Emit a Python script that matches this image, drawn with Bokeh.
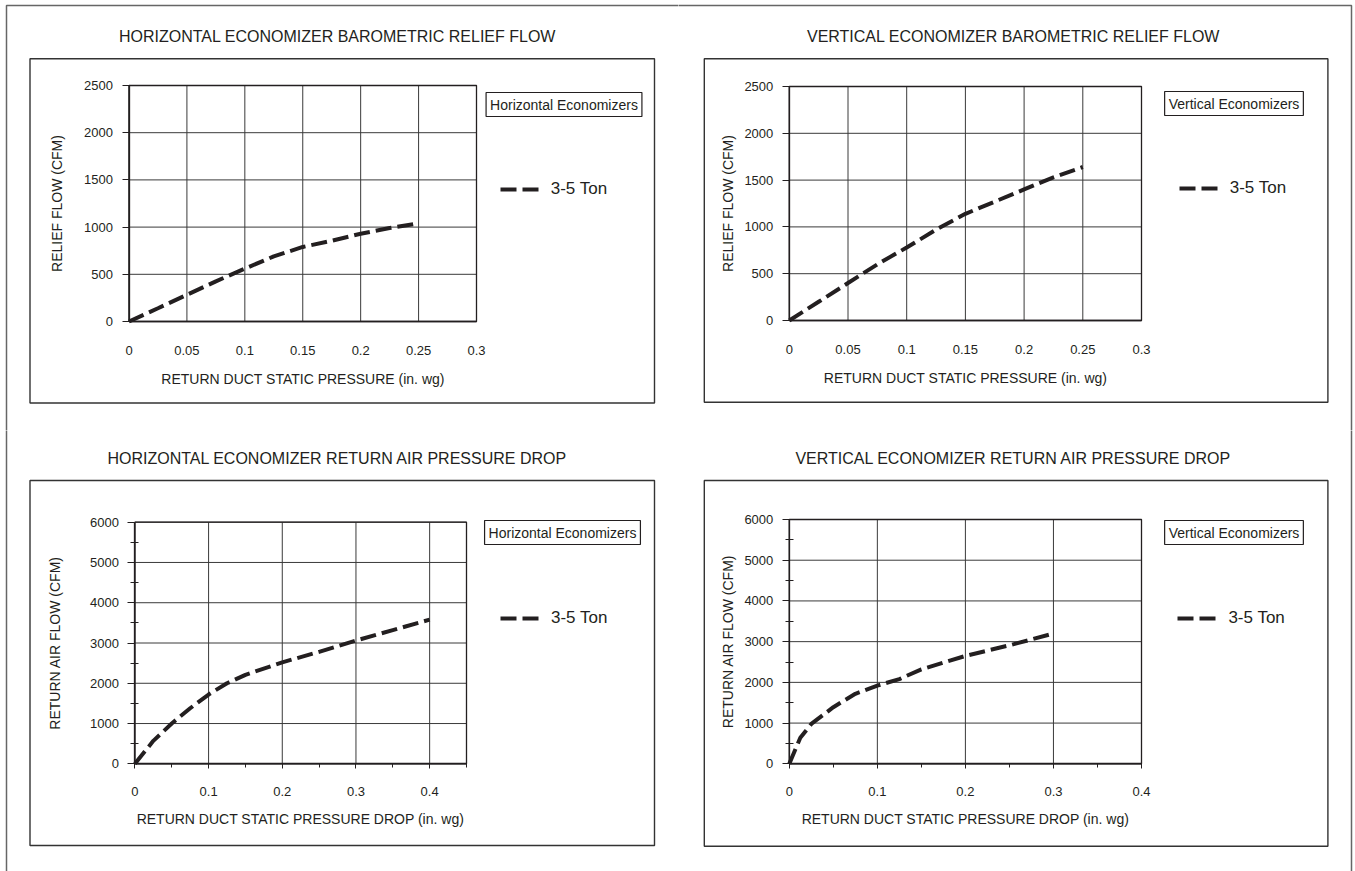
from bokeh.plotting import figure
from bokeh.layouts import column, row
from bokeh.models import (Range1d, FixedTicker, NumeralTickFormatter, Label, LinearAxis,
                          BoxAnnotation, Legend, LegendItem)
from bokeh.embed import file_html
from bokeh.resources import INLINE

# ---------------- data ----------------
series_label = "3-5 Ton"

# Horizontal economizer barometric relief flow
h_relief_x = [0, 0.025, 0.05, 0.075, 0.1, 0.125, 0.15, 0.175, 0.2, 0.225, 0.25]
h_relief_y = [0, 140, 283, 425, 560, 690, 790, 855, 930, 990, 1040]

# Vertical economizer barometric relief flow
v_relief_x = [0, 0.025, 0.05, 0.075, 0.1, 0.125, 0.15, 0.175, 0.2, 0.225, 0.25]
v_relief_y = [0, 200, 400, 600, 780, 970, 1140, 1270, 1400, 1530, 1640]

# Horizontal economizer return air pressure drop
h_drop_x = [0, 0.025, 0.05, 0.075, 0.1, 0.125, 0.15, 0.2, 0.25, 0.3, 0.35, 0.4]
h_drop_y = [0, 570, 1000, 1380, 1720, 2000, 2210, 2520, 2780, 3060, 3320, 3580]

# Vertical economizer return air pressure drop
v_drop_x = [0, 0.0125, 0.025, 0.05, 0.075, 0.1, 0.125, 0.15, 0.2, 0.25, 0.3]
v_drop_y = [0, 640, 980, 1390, 1720, 1920, 2080, 2320, 2650, 2910, 3200]

relief_x_ticks = [0, 0.05, 0.1, 0.15, 0.2, 0.25, 0.3]
relief_y_ticks = [0, 500, 1000, 1500, 2000, 2500]
drop_x_ticks = [0, 0.1, 0.2, 0.3, 0.4]
drop_x_minor_h = [0.05, 0.15, 0.25, 0.35, 0.45]
drop_x_minor_v = [0.05, 0.15, 0.25, 0.35]
drop_y_ticks = [0, 1000, 2000, 3000, 4000, 5000, 6000]
drop_y_minor = [500, 1500, 2500, 3500, 4500, 5500]

titles = ["HORIZONTAL ECONOMIZER BAROMETRIC RELIEF FLOW",
          "VERTICAL ECONOMIZER BAROMETRIC RELIEF FLOW",
          "HORIZONTAL ECONOMIZER RETURN AIR PRESSURE DROP",
          "VERTICAL ECONOMIZER RETURN AIR PRESSURE DROP"]
box_labels = ["Horizontal Economizers", "Vertical Economizers",
              "Horizontal Economizers", "Vertical Economizers"]
x_labels = ["RETURN DUCT STATIC PRESSURE (in. wg)",
            "RETURN DUCT STATIC PRESSURE (in. wg)",
            "RETURN DUCT STATIC PRESSURE DROP (in. wg)",
            "RETURN DUCT STATIC PRESSURE DROP (in. wg)"]
y_labels = ["RELIEF FLOW (CFM)", "RELIEF FLOW (CFM)",
            "RETURN AIR FLOW (CFM)", "RETURN AIR FLOW (CFM)"]

FONT = "Liberation Sans"
INK = "#231f20"
GRID = "#3a3a3a"


def fit_range(d0, d1, p0, p1, total):
    """Range whose values d0/d1 land at pixels p0/p1 of a canvas 'total' px long."""
    s = (d1 - d0) / (p1 - p0)
    return Range1d(d0 - p0 * s, d1 + (total - p1) * s)


def make_panel(xs, ys, xt, xm, yt, ym, xmax, ymax, title, box_label, xlabel, ylabel, lay):
    ox, oy, W, H = lay["canvas"]
    X = lambda px: px - ox           # page x -> screen x
    Y = lambda py: (oy + H) - py     # page y -> screen y (from bottom)
    cx0, cx1, cy0, cy1 = lay["chart"]  # page pixels of the chart box
    p = figure(width=W, height=H,
               x_range=fit_range(0, xmax, X(cx0), X(cx1), W),
               y_range=fit_range(0, ymax, Y(cy0), Y(cy1), H),
               x_axis_type=None, y_axis_type=None,
               output_backend="svg", toolbar_location=None, min_border=0)
    p.title.visible = False
    p.background_fill_color = "white"
    p.border_fill_color = "white"
    p.outline_line_color = None

    # grid lines at the tick values
    p.segment(x0=xt, y0=[0] * len(xt), x1=xt, y1=[ymax] * len(xt),
              line_color=GRID, line_width=1)
    p.segment(x0=[0] * len(yt), y0=yt, x1=[xmax] * len(yt), y1=yt,
              line_color=GRID, line_width=1)
    # chart box outline
    p.add_layout(BoxAnnotation(left=0, right=xmax, bottom=0, top=ymax,
                               fill_alpha=0, line_color=INK, line_alpha=1, line_width=1.3))

    xa = LinearAxis(ticker=FixedTicker(ticks=xt, minor_ticks=xm),
                    formatter=NumeralTickFormatter(format="0.[00]"),
                    fixed_location=0, bounds=(0, xmax), axis_label=xlabel)
    ya = LinearAxis(ticker=FixedTicker(ticks=yt, minor_ticks=ym),
                    formatter=NumeralTickFormatter(format="0"),
                    fixed_location=0, bounds=(0, ymax), axis_label=ylabel)
    for ax in (xa, ya):
        ax.axis_line_color = INK
        ax.axis_line_width = 1.3
        ax.major_tick_line_color = INK
        ax.minor_tick_line_color = INK
        ax.major_tick_line_width = 1
        ax.minor_tick_line_width = 1
        ax.major_label_text_font = FONT
        ax.major_label_text_font_size = "13px"
        ax.major_label_text_color = INK
        ax.axis_label_text_font = FONT
        ax.axis_label_text_font_size = "14px"
        ax.axis_label_text_font_style = "normal"
        ax.axis_label_text_color = INK
    ya.major_tick_in = 0
    ya.major_tick_out = 7
    ya.major_label_standoff = 9
    ya.axis_label_standoff = lay["yls"]
    ya.minor_tick_in = 4 if ym else 0
    ya.minor_tick_out = 4 if ym else 0
    xa.major_tick_in = 0
    xa.minor_tick_in = 0
    if xm:
        xa.major_tick_out = 5
        xa.minor_tick_out = 4
        xa.major_label_standoff = 18
        xa.axis_label_standoff = 12
    else:
        xa.major_tick_out = 0
        xa.minor_tick_out = 0
        xa.major_label_standoff = 24
        xa.axis_label_standoff = 13
    p.add_layout(xa, "below")
    p.add_layout(ya, "left")

    r = p.line(xs, ys, line_color=INK, line_width=4, line_dash="16 6")

    # panel frame box
    bl, br, bt, bb = lay["box"]
    p.add_layout(BoxAnnotation(left=X(bl), right=X(br), top=Y(bt), bottom=Y(bb),
                               left_units="screen", right_units="screen",
                               top_units="screen", bottom_units="screen",
                               fill_alpha=0, line_color="#333333", line_alpha=1, line_width=1.4))
    # outer page border (only the edges that fall in this quadrant are visible)
    ol, orr, ot = lay["outer"]
    p.add_layout(BoxAnnotation(left=X(ol), right=X(orr), top=Y(ot), bottom=-500,
                               left_units="screen", right_units="screen",
                               top_units="screen", bottom_units="screen",
                               fill_alpha=0, line_color="#666666", line_alpha=1, line_width=1.5))
    # title
    tx, ty = lay["title"]
    p.add_layout(Label(x=X(tx), y=Y(ty), x_units="screen", y_units="screen",
                       text=title, text_align="center", text_baseline="middle",
                       text_font=FONT, text_font_size="16px", text_color=INK))
    # boxed label
    lx, ly = lay["blab"]
    p.add_layout(Label(x=X(lx), y=Y(ly), x_units="screen", y_units="screen",
                       text=box_label, text_align="center", text_baseline="middle",
                       text_font=FONT, text_font_size="14px", text_color=INK,
                       border_line_color=INK, border_line_width=1.2,
                       background_fill_color="white", padding=4))
    # legend
    gx, gy = lay["leg"]
    leg = Legend(items=[LegendItem(label=series_label, renderers=[r])],
                 location=(X(gx), Y(gy + 10)),
                 border_line_color=None, background_fill_alpha=0,
                 padding=0, margin=0, spacing=0,
                 glyph_width=40, glyph_height=20, label_height=20,
                 label_standoff=11, label_text_font=FONT,
                 label_text_font_size="17px", label_text_color=INK)
    p.add_layout(leg)
    return p


# layout positions in page pixels
lay_tl = dict(canvas=(0, 0, 678, 430), chart=(128.5, 476, 321, 85), yls=17,
              box=(29.5, 654, 58.3, 402.5), outer=(6, 3000, 5),
              title=(337, 35.5), blab=(563.5, 104), leg=(499.7, 189.3))
lay_tr = dict(canvas=(678, 0, 677, 430), chart=(788.8, 1141, 320, 86), yls=6,
              box=(703.8, 1327.4, 58.3, 401.7), outer=(-3000, 1351, 5),
              title=(1013, 35.5), blab=(1233.5, 103), leg=(1178.7, 188))
lay_bl = dict(canvas=(0, 430, 678, 441), chart=(134.4, 466, 763.3, 521.7), yls=24,
              box=(29.5, 654, 480, 845), outer=(6, 3000, -3000),
              title=(337, 458), blab=(562, 532), leg=(500, 617.7))
lay_br = dict(canvas=(678, 430, 677, 441), chart=(788.8, 1141, 763.3, 519), yls=6,
              box=(703.8, 1327.4, 480, 845.7), outer=(-3000, 1351, -3000),
              title=(1013, 458), blab=(1233.5, 532), leg=(1177.4, 617.7))

p1 = make_panel(h_relief_x, h_relief_y, relief_x_ticks, [], relief_y_ticks, [],
                relief_x_ticks[-1], relief_y_ticks[-1],
                titles[0], box_labels[0], x_labels[0], y_labels[0], lay_tl)
p2 = make_panel(v_relief_x, v_relief_y, relief_x_ticks, [], relief_y_ticks, [],
                relief_x_ticks[-1], relief_y_ticks[-1],
                titles[1], box_labels[1], x_labels[1], y_labels[1], lay_tr)
p3 = make_panel(h_drop_x, h_drop_y, drop_x_ticks, drop_x_minor_h, drop_y_ticks, drop_y_minor,
                drop_x_minor_h[-1], drop_y_ticks[-1],
                titles[2], box_labels[2], x_labels[2], y_labels[2], lay_bl)
p4 = make_panel(v_drop_x, v_drop_y, drop_x_ticks, drop_x_minor_v, drop_y_ticks, drop_y_minor,
                drop_x_ticks[-1], drop_y_ticks[-1],
                titles[3], box_labels[3], x_labels[3], y_labels[3], lay_br)

layout = column(row(p1, p2, spacing=0), row(p3, p4, spacing=0), spacing=0)
open("out.html", "w").write(file_html(layout, INLINE))
